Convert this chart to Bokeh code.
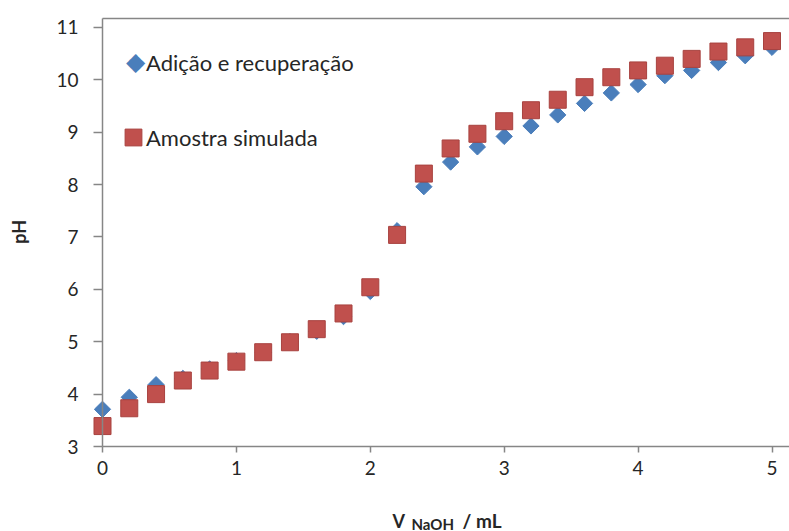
import numpy as np
from bokeh.plotting import figure
from bokeh.models import Legend, LegendItem, Label, Range1d, FixedTicker, LinearAxis
from bokeh.embed import file_html
from bokeh.resources import INLINE

# ---- data ----
v_naoh = [0.0, 0.2, 0.4, 0.6, 0.8, 1.0, 1.2, 1.4, 1.6, 1.8, 2.0, 2.2, 2.4,
          2.6, 2.8, 3.0, 3.2, 3.4, 3.6, 3.8, 4.0, 4.2, 4.4, 4.6, 4.8, 5.0]
ph_adicao = [3.71, 3.94, 4.18, 4.30, 4.48, 4.64, 4.80, 5.00, 5.20, 5.48, 5.96, 7.12, 7.96,
             8.43, 8.72, 8.92, 9.12, 9.33, 9.55, 9.75, 9.91, 10.08, 10.18, 10.33, 10.46, 10.62]
ph_amostra = [3.39, 3.73, 4.00, 4.26, 4.45, 4.62, 4.80, 4.99, 5.24, 5.54, 6.04, 7.04, 8.21,
              8.69, 8.97, 9.21, 9.42, 9.62, 9.86, 10.05, 10.18, 10.27, 10.40, 10.54, 10.62, 10.74]
series_names = ["Adição e recuperação", "Amostra simulada"]
x_ticks = [0, 1, 2, 3, 4, 5]
y_ticks = [3, 4, 5, 6, 7, 8, 9, 10, 11]
x_min, x_max = 0, 5.13
y_min, y_max = 3, 11.17

FONT = "Lato"
TXT = "#262626"
AXC = "#868686"
BLUE = "#4A7EBB"
RED = "#C0504D"

W, H = 789, 531
PX_X = 133.9     # pixels per mL
PX_Y = 52.38     # pixels per pH unit
X0_PX, Y0_PX = 102, 446   # pixel position (from top-left) of the axes origin

p = figure(width=W, height=H, output_backend="svg", toolbar_location=None,
           x_axis_location=None, y_axis_location=None,
           x_range=Range1d(-X0_PX / PX_X, (W - X0_PX) / PX_X),
           y_range=Range1d(y_min - (H - Y0_PX) / PX_Y, y_min + Y0_PX / PX_Y),
           min_border=0)
p.xgrid.grid_line_color = None
p.ygrid.grid_line_color = None
p.outline_line_color = None
p.background_fill_color = "white"
p.border_fill_color = "white"

# top border line of the plot area
p.segment(x0=[x_min], y0=[y_max], x1=[x_max + 0.2], y1=[y_max], line_color=AXC, line_width=1.5)

r1 = p.scatter(v_naoh, ph_adicao, marker="square", angle=np.pi / 4, size=11.5,
               fill_color=BLUE, line_color=BLUE)
r2 = p.scatter(v_naoh, ph_amostra, marker="square", size=17,
               fill_color=RED, line_color="#A8423F", line_width=1)

# axes at fixed locations
xax = LinearAxis(fixed_location=y_min, bounds=(x_min, x_max + 0.2),
                 ticker=FixedTicker(ticks=x_ticks, minor_ticks=[]))
yax = LinearAxis(fixed_location=x_min, bounds=(y_min, y_max),
                 ticker=FixedTicker(ticks=y_ticks, minor_ticks=[]))
for ax in (xax, yax):
    ax.axis_line_color = AXC
    ax.axis_line_width = 1.5
    ax.major_tick_line_color = AXC
    ax.major_tick_line_width = 1.5
    ax.major_tick_in = 0
    ax.minor_tick_line_color = None
    ax.major_label_text_font = FONT
    ax.major_label_text_font_size = "19px"
    ax.major_label_text_color = TXT
xax.major_tick_out = 6
yax.major_tick_out = 9
xax.major_label_standoff = 8
yax.major_label_standoff = 15
p.add_layout(xax, "below")
p.add_layout(yax, "left")

# legends: labels and swatches placed separately (legend swatches are never
# rotated and scale with the swatch box, so the diamond is drawn as a symbol)
leg_style = dict(margin=0, padding=0, label_standoff=0, border_line_color=None,
                 background_fill_alpha=0, label_text_font=FONT,
                 label_text_font_size="22px", label_text_color=TXT)
leg1 = Legend(items=[LegendItem(label=series_names[0], renderers=[r1])],
              location=(146, 454), glyph_width=0, glyph_height=29, label_height=29,
              **leg_style)
leg2 = Legend(items=[LegendItem(label=series_names[1], renderers=[r2])],
              location=(146, 373), glyph_width=0, glyph_height=42, label_height=42,
              **leg_style)
leg2_swatch = Legend(items=[LegendItem(label=" ", renderers=[r2])],
                     location=(112, 373), glyph_width=42, glyph_height=42, label_height=42,
                     **leg_style)
p.add_layout(leg1)
p.add_layout(leg2)
p.add_layout(leg2_swatch)
p.add_layout(Label(x=x_min, y=y_min, x_offset=33, y_offset=385, text="◆",
                   text_font="DejaVu Sans", text_font_size="25px", text_color=BLUE,
                   text_align="center", text_baseline="middle"))

# axis titles
p.add_layout(Label(x=x_min, y=7.1, x_offset=-84, text="pH", angle=np.pi / 2,
                   text_font=FONT, text_font_style="bold", text_font_size="18px",
                   text_color=TXT, text_align="center", text_baseline="middle"))
p.add_layout(Label(x=x_min, y=y_min, x_offset=290, y_offset=-74, text="V",
                   text_font=FONT, text_font_style="bold", text_font_size="18px",
                   text_color=TXT, text_align="left", text_baseline="alphabetic"))
p.add_layout(Label(x=x_min, y=y_min, x_offset=309, y_offset=-77, text="NaOH",
                   text_font=FONT, text_font_style="bold", text_font_size="15px",
                   text_color=TXT, text_align="left", text_baseline="alphabetic"))
p.add_layout(Label(x=x_min, y=y_min, x_offset=360, y_offset=-74, text="/ mL",
                   text_font=FONT, text_font_style="bold", text_font_size="19px",
                   text_color=TXT, text_align="left", text_baseline="alphabetic"))

open("out.html", "w").write(file_html(p, INLINE))
